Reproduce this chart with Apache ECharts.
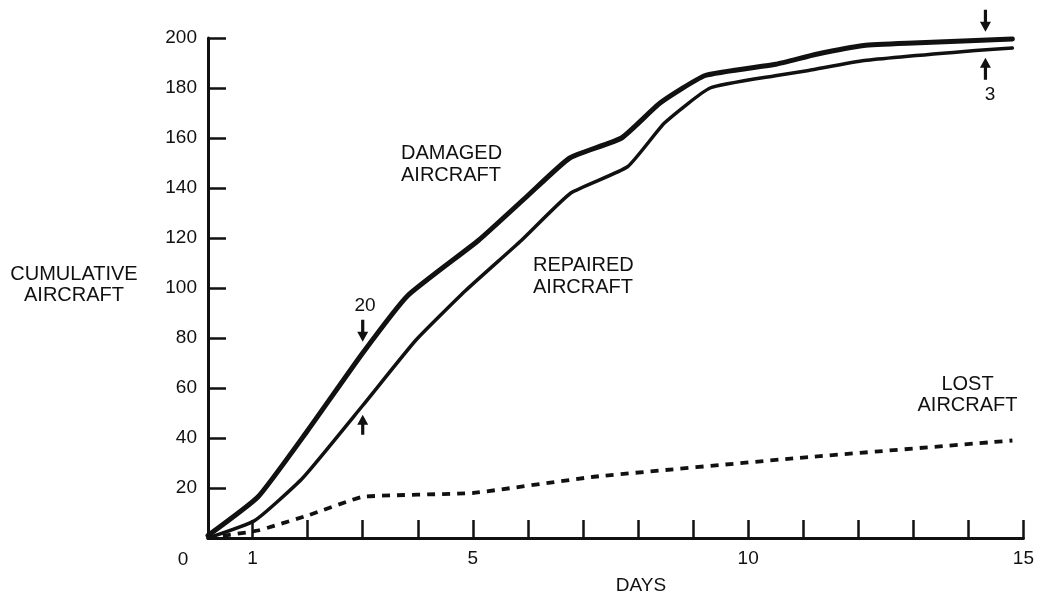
<!DOCTYPE html>
<html><head><meta charset="utf-8">
<script src="https://cdn.jsdelivr.net/npm/echarts@6/dist/echarts.min.js"></script>
<style>html,body{margin:0;padding:0;background:#fff}#c{width:1037px;height:607px}</style>
</head><body><div id="c"></div>
<script>
// ---- data ----
const damagedDays   = [0.19, 1.1, 2.0, 3.0, 3.82, 5.1, 6.0, 6.76, 7.7, 8.4, 9.22, 10.5, 11.24, 12.1, 13.0, 14.13, 14.8];
const damagedValues = [1, 16.5, 43, 74, 97, 119, 137, 152, 160, 174, 185, 189.5, 193.5, 197, 198, 199, 199.6];

const repairedDays   = [0.19, 1.04, 1.91, 3.0, 3.96, 4.87, 5.88, 6.78, 7.81, 8.48, 9.31, 10.52, 11.1, 12.11, 14.13, 14.8];
const repairedValues = [0, 7, 24, 53, 79, 99, 119, 138, 148.5, 166, 180, 185, 187, 191, 195, 196];

const lostDays   = [0.19, 1.1, 2.0, 3.0, 5.0, 7.2, 10.9, 14.8];
const lostValues = [0, 3, 9, 16.5, 18, 24.5, 32, 39];

const xTickValues  = [1,2,3,4,5,6,7,8,9,10,11,12,13,14,15];
const xLabelValues = [1,5,10,15];

// arrow annotations: [day, tailValue, tipValue]
const arrowMarks = [[3.0, 87.3, 78.5], [3.0, 41.3, 49.3], [14.31, 211.3, 202.5], [14.31, 183.3, 192.1]];

const pairs = (xs, ys) => xs.map((x, i) => [x, ys[i]]);

const INK = '#111';
const FONT = '"Liberation Sans", Arial, Helvetica, sans-serif';

const chart = echarts.init(document.getElementById('c'), null, {renderer: 'canvas'});
const baseGraphic = [
  {type: 'text', x: 74, y: 285, style: {text: 'CUMULATIVE\nAIRCRAFT', fill: INK, font: '20px ' + FONT, lineHeight: 21, align: 'center', verticalAlign: 'middle'}},
  {type: 'text', x: 401, y: 164.5, style: {text: 'DAMAGED\nAIRCRAFT', fill: INK, font: '20px ' + FONT, lineHeight: 22, align: 'left', verticalAlign: 'middle'}},
  {type: 'text', x: 533, y: 276.5, style: {text: 'REPAIRED\nAIRCRAFT', fill: INK, font: '20px ' + FONT, lineHeight: 22, align: 'left', verticalAlign: 'middle'}},
  {type: 'text', x: 967.5, y: 395, style: {text: 'LOST\nAIRCRAFT', fill: INK, font: '20px ' + FONT, lineHeight: 21, align: 'center', verticalAlign: 'middle'}},
  {type: 'text', x: 365, y: 305.5, style: {text: '20', fill: INK, font: '19px ' + FONT, align: 'center', verticalAlign: 'middle'}},
  {type: 'text', x: 990, y: 94.5, style: {text: '3', fill: INK, font: '19px ' + FONT, align: 'center', verticalAlign: 'middle'}},
  {type: 'text', x: 183, y: 560, style: {text: '0', fill: INK, font: '19px ' + FONT, align: 'center', verticalAlign: 'middle'}},
  {type: 'text', x: 641, y: 585.5, style: {text: 'DAYS', fill: INK, font: '19px ' + FONT, align: 'center', verticalAlign: 'middle'}}
];

chart.setOption({
  backgroundColor: '#fff',
  animation: false,
  grid: {left: 208, right: 9, top: 38, bottom: 69},
  xAxis: {
    type: 'value', min: 0.19, max: 15,
    axisLine: {lineStyle: {color: INK, width: 3}},
    axisTick: {show: true, inside: true, length: 18, customValues: xTickValues, lineStyle: {color: INK, width: 2.5}},
    axisLabel: {customValues: xLabelValues, margin: 11, fontSize: 19, color: INK, fontFamily: FONT},
    splitLine: {show: false}
  },
  yAxis: {
    type: 'value', min: 0, max: 200, interval: 20,
    axisLine: {show: true, lineStyle: {color: INK, width: 3}},
    axisTick: {show: true, inside: true, length: 18, lineStyle: {color: INK, width: 2.5}},
    axisLabel: {margin: 11, fontSize: 19, color: INK, fontFamily: FONT, formatter: v => v === 0 ? '' : String(v)},
    splitLine: {show: false}
  },
  series: [
    {name: 'DAMAGED AIRCRAFT', type: 'line', data: pairs(damagedDays, damagedValues), showSymbol: false,
     smooth: 0.15, lineStyle: {color: INK, width: 5, join: 'round', cap: 'round'}},
    {name: 'REPAIRED AIRCRAFT', type: 'line', data: pairs(repairedDays, repairedValues), showSymbol: false,
     smooth: 0.15, lineStyle: {color: INK, width: 3.5, join: 'round', cap: 'round'}},
    {name: 'LOST AIRCRAFT', type: 'line', data: pairs(lostDays, lostValues), showSymbol: false,
     smooth: 0.1, lineStyle: {color: INK, width: 3.8, type: [8, 7]}}
  ],
  graphic: baseGraphic
});

// arrows placed through the chart's own coordinate conversion
const arrowGraphics = arrowMarks.map(a => {
  const tail = chart.convertToPixel({gridIndex: 0}, [a[0], a[1]]);
  const tip  = chart.convertToPixel({gridIndex: 0}, [a[0], a[2]]);
  const x = tip[0];
  const dir = Math.sign(tip[1] - tail[1]);
  const headLen = 10, headHalf = 5.5, shaftHalf = 1.6;
  const base = tip[1] - dir * headLen;
  return {
    type: 'polygon',
    shape: {points: [
      [x - shaftHalf, tail[1]], [x + shaftHalf, tail[1]], [x + shaftHalf, base],
      [x + headHalf, base], [x, tip[1]], [x - headHalf, base], [x - shaftHalf, base]
    ]},
    style: {fill: INK}
  };
});
chart.setOption({graphic: baseGraphic.concat(arrowGraphics)}, {replaceMerge: ['graphic']});
</script>
</body></html>
